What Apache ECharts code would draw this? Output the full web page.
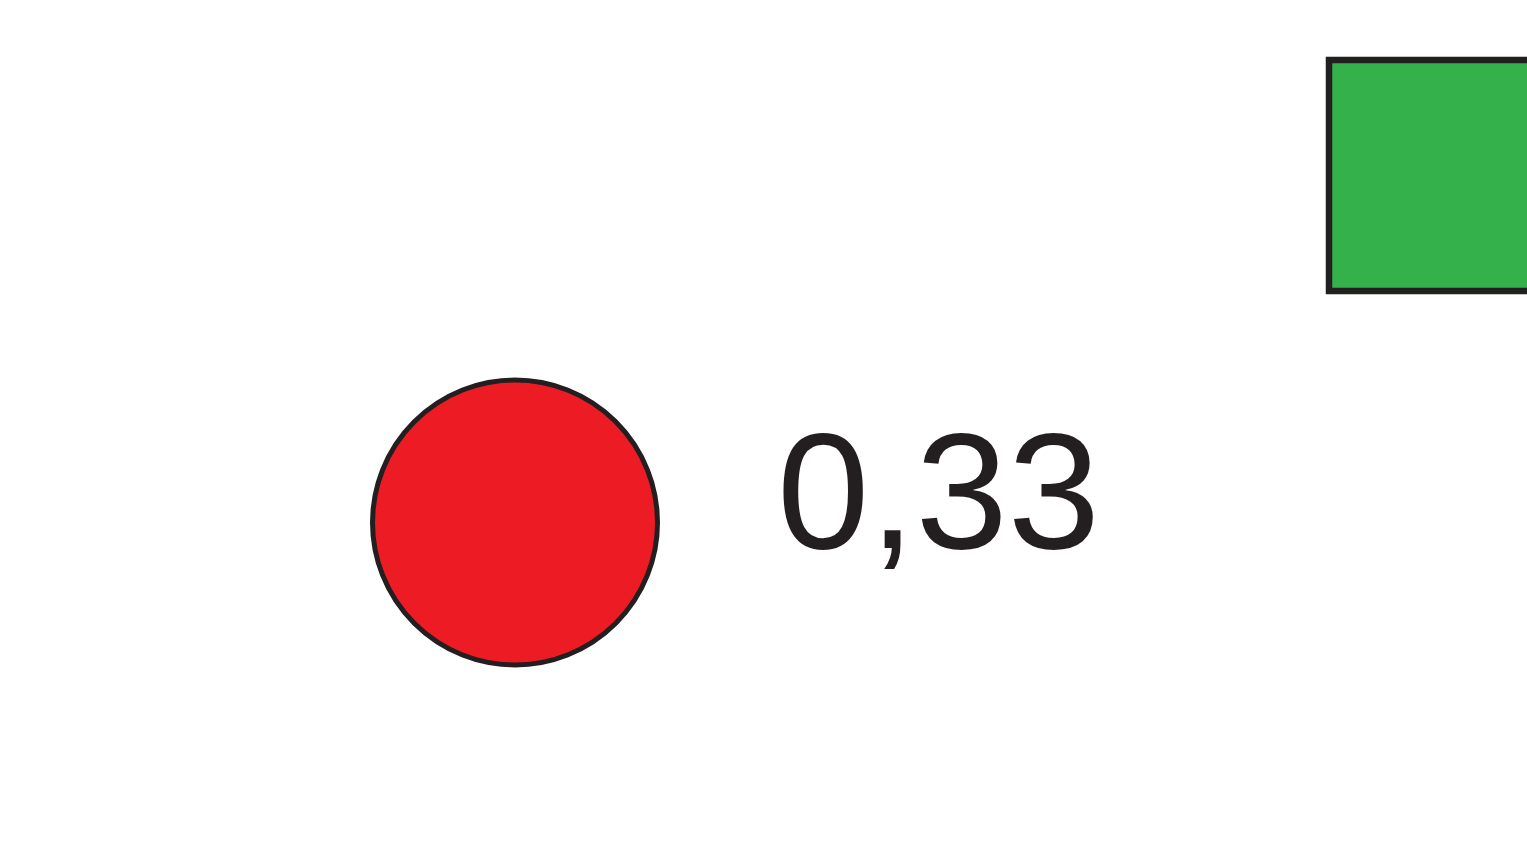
<!DOCTYPE html>
<html>
<head>
<meta charset="utf-8">
<script src="https://cdn.jsdelivr.net/npm/echarts@6/dist/echarts.min.js"></script>
<style>html,body{margin:0;padding:0;background:#fff}#c{width:1527px;height:855px}</style>
</head>
<body>
<div id="c"></div>
<script>
// Data
const names = ['red', 'green'];
const shapes = ['circle', 'rect'];
const xs = [515, 1444.5];
const ys = [522.5, 175.5];
const values = [0.33, null];
const fills = ['#ed1c24', '#34b14b'];

const chart = echarts.init(document.getElementById('c'), null, {renderer: 'canvas'});
const fmt = v => v.toFixed(2).replace('.', ',');

chart.setOption({
  animation: false,
  backgroundColor: '#ffffff',
  grid: {left: 0, right: 0, top: 0, bottom: 0},
  xAxis: {type: 'value', min: 0, max: 1527, show: false},
  yAxis: {type: 'value', min: 0, max: 855, inverse: true, show: false},
  series: [{
    type: 'scatter',
    clip: false,
    data: names.map((n, i) => ({
      name: n,
      value: [xs[i], ys[i], values[i]],
      symbol: shapes[i],
      symbolSize: shapes[i] === 'circle' ? 285 : [231, 231],
      itemStyle: {
        color: fills[i],
        borderColor: '#231f20',
        borderWidth: shapes[i] === 'circle' ? 5 : 6.5,
        opacity: 1
      },
      label: {
        show: values[i] != null,
        position: 'right',
        distance: 117,
        offset: [0, -20],
        formatter: p => fmt(p.value[2]),
        fontFamily: 'Liberation Sans, Arial, sans-serif',
        fontSize: 166,
        color: '#231f20'
      }
    }))
  }]
});
</script>
</body>
</html>
